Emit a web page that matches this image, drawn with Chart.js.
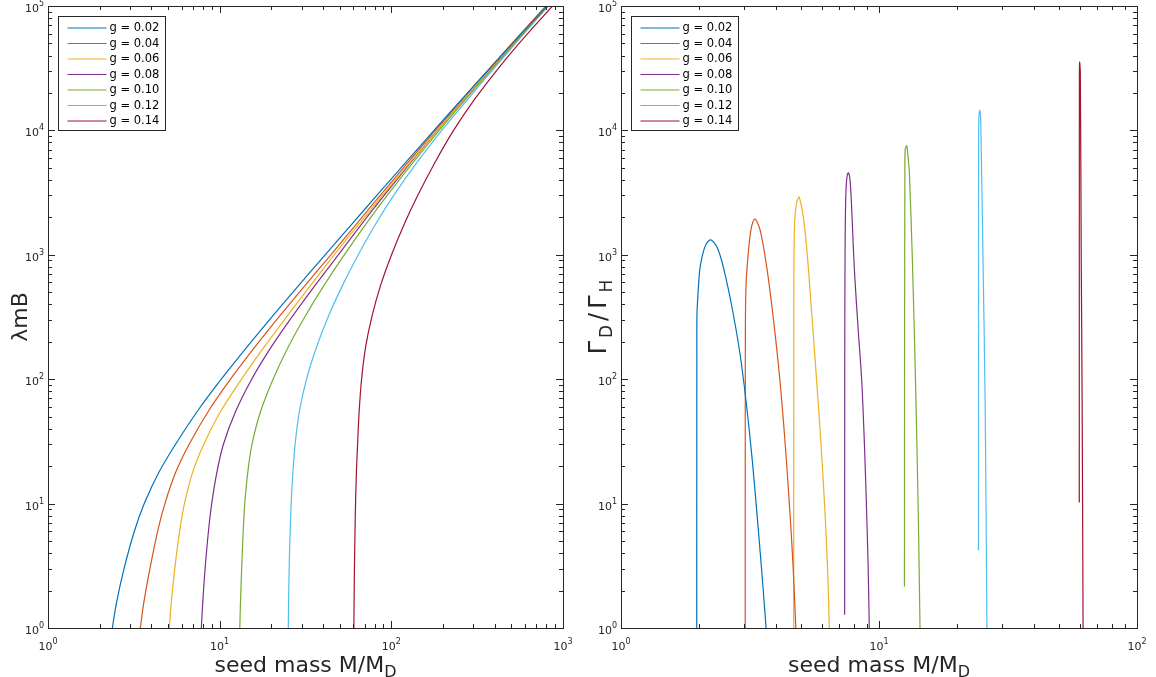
<!DOCTYPE html>
<html>
<head>
<meta charset="utf-8">
<script src="https://cdn.jsdelivr.net/npm/chart.js@4.4.1/dist/chart.umd.min.js"></script>
<style>
  body { margin: 0; background: #fff; }
  #wrap { position: relative; width: 1156px; height: 677px; }
  #wrap canvas { position: absolute; left: 0; top: 0; }
</style>
</head>
<body>
<div id="wrap">
  <canvas id="panelLeft" width="1156" height="677"></canvas>
  <canvas id="panelRight" width="1156" height="677"></canvas>
</div>
<script>
const gLabels = ['g = 0.02', 'g = 0.04', 'g = 0.06', 'g = 0.08', 'g = 0.10', 'g = 0.12', 'g = 0.14'];
const lineColors = ['#0072BD', '#D95319', '#EDB120', '#7E2F8E', '#77AC30', '#4DBEEE', '#A2142F'];

// left panel: lambda m B levels, and the seed mass where each curve reaches them
const lambdaLevels = [1, 1.6, 3, 6, 10, 18, 30, 55, 100, 180, 318, 560, 1000, 1800, 3000, 5500, 1e4, 1.8e4, 3.4e4, 5.6e4, 1e5];
const lambdaMass = [
  [2.37, 2.507, 2.773, 3.185, 3.638, 4.442, 5.534, 7.398, 10.22, 14.37, 20.22, 28.64, 41.17, 59.6, 82.3, 120.9, 177.2, 259.5, 393.6, 547.2, 805],
  [3.45, 3.615, 3.925, 4.354, 4.799, 5.559, 6.645, 8.574, 11.56, 15.97, 22.22, 31.2, 44.46, 63.24, 86.15, 124.6, 180.1, 260.8, 391.7, 542, 795],
  [5.09, 5.223, 5.475, 5.848, 6.234, 6.971, 8.085, 10.12, 13.4, 18.09, 24.59, 33.57, 46.47, 65.52, 88.8, 128.1, 185.1, 267.2, 400, 552, 807],
  [7.82, 7.969, 8.225, 8.604, 8.987, 9.643, 10.52, 12.38, 15.37, 19.9, 26.44, 35.69, 49.1, 67.85, 90.78, 129.4, 185.3, 267.5, 400.5, 552.7, 808.6],
  [13.1, 13.22, 13.43, 13.71, 14.0, 14.59, 15.43, 17.31, 20.47, 25.0, 31.38, 40.27, 53.2, 71.78, 94.6, 133.6, 190.2, 272.9, 407.3, 560.7, 817.6],
  [25.1, 25.2, 25.4, 25.74, 26.09, 26.71, 27.5, 29.13, 32.06, 36.59, 42.9, 51.7, 64.2, 81.7, 103.3, 140.7, 196.7, 280.7, 414.8, 567, 819.6],
  [60.5, 60.67, 60.97, 61.44, 61.88, 62.6, 63.6, 64.94, 67.1, 70.76, 77.05, 86.3, 100.3, 119.7, 142.4, 179.2, 230.4, 307.4, 438.7, 595.1, 868]
];

// right panel: Gamma_D / Gamma_H against seed mass
const ratioMass = [
  [1.966, 1.967, 1.968, 1.97, 1.99, 2.02, 2.07, 2.14, 2.23, 2.35, 2.49, 2.72, 2.94, 3.21, 3.51, 3.65],
  [3.03, 3.031, 3.034, 3.04, 3.06, 3.09, 3.13, 3.20, 3.30, 3.46, 3.67, 3.9, 4.13, 4.33, 4.52, 4.65, 4.76],
  [4.67, 4.672, 4.675, 4.68, 4.69, 4.71, 4.75, 4.82, 4.90, 5.06, 5.24, 5.48, 5.73, 5.96, 6.18, 6.32, 6.42],
  [7.36, 7.362, 7.37, 7.39, 7.42, 7.47, 7.54, 7.62, 7.72, 7.82, 7.95, 8.07, 8.31, 8.57, 8.78, 8.96, 9.08, 9.17],
  [12.55, 12.56, 12.58, 12.6, 12.63, 12.8, 12.92, 13.11, 13.47, 13.85, 14.2, 14.42],
  [24.3, 24.31, 24.33, 24.4, 24.6, 24.8, 25.3, 25.8, 26.2],
  [59.75, 59.76, 59.8, 59.9, 60.3, 60.8, 61.3, 61.8]
];
const ratioValue = [
  [1, 30, 150, 330, 500, 760, 1000, 1220, 1318, 1164, 804, 339, 126, 25, 2.9, 1],
  [1, 30, 200, 400, 650, 850, 1150, 1650, 1945, 1587, 804, 300, 98, 30, 8.3, 3, 1],
  [1, 30, 300, 800, 1300, 1800, 2300, 2750, 2911, 2162, 1164, 350, 98, 30, 8.3, 3, 1],
  [1.28, 30, 300, 1200, 2500, 3700, 4400, 4560, 4000, 2600, 1164, 628, 245, 98, 30, 8.3, 3, 1],
  [2.16, 100, 1000, 4500, 6980, 7530, 6580, 4540, 910, 98, 8.3, 1],
  [4.21, 1000, 8000, 13000, 14500, 11480, 910, 60, 1],
  [10.2, 1000, 20000, 35300, 29000, 910, 60, 1]
];

const axisColor = '#262626';
const fontName = '"DejaVu Sans", sans-serif';

function buildSets(massList, valueList, tension) {
    return massList.map(function (masses, i) {
        let values = Array.isArray(valueList[0]) ? valueList[i] : valueList;
        return {
            label: gLabels[i],
            data: masses.map(function (m, j) { return { x: m, y: values[j] }; }),
            borderColor: lineColors[i],
            backgroundColor: lineColors[i],
            borderWidth: 1.2,
            pointRadius: 0,
            tension: tension,
            fill: false
        };
    });
}

// draws "10" with a raised exponent
function drawPower(ctx, exp, x, y, align) {
    ctx.font = '11px ' + fontName;
    let w1 = ctx.measureText('10').width;
    ctx.font = '8px ' + fontName;
    let w2 = ctx.measureText(exp).width;
    let start = align === 'right' ? x - w1 - w2 : x - (w1 + w2) / 2;
    ctx.textAlign = 'left';
    ctx.textBaseline = 'alphabetic';
    ctx.font = '11px ' + fontName;
    ctx.fillText('10', start, y);
    ctx.font = '8px ' + fontName;
    ctx.fillText(exp, start + w1, y - 6);
}

// text made of pieces, some of them lowered as subscripts
function drawPieces(ctx, pieces, cx, baseY) {
    let total = 0;
    pieces.forEach(function (p) {
        ctx.font = p.size + 'px ' + fontName;
        p.w = ctx.measureText(p.t).width + (p.gap || 0);
        total += p.w;
    });
    let px = cx - total / 2;
    ctx.textAlign = 'left';
    ctx.textBaseline = 'alphabetic';
    pieces.forEach(function (p) {
        ctx.font = p.size + 'px ' + fontName;
        ctx.fillText(p.t, px, baseY + (p.dy || 0));
        px += p.w;
    });
}

const matlabAxes = {
    id: 'matlabAxes',
    afterDraw(chart, args, opts) {
        const ctx = chart.ctx;
        const a = chart.chartArea;
        const sx = chart.scales.x;
        const sy = chart.scales.y;
        ctx.save();
        ctx.strokeStyle = axisColor;
        ctx.fillStyle = axisColor;
        ctx.lineWidth = 1;

        // ticks, inward, on all four sides
        ctx.beginPath();
        const xExp = [Math.round(Math.log10(sx.min)), Math.round(Math.log10(sx.max))];
        for (let e = xExp[0]; e <= xExp[1]; e++) {
            for (let k = 1; k <= 9; k++) {
                if (e === xExp[1] && k > 1) break;
                let p = Math.round(sx.getPixelForValue(k * Math.pow(10, e))) + 0.5;
                let len = k === 1 ? 7 : 4;
                ctx.moveTo(p, a.bottom); ctx.lineTo(p, a.bottom - len);
                ctx.moveTo(p, a.top); ctx.lineTo(p, a.top + len);
            }
        }
        const yExp = [Math.round(Math.log10(sy.min)), Math.round(Math.log10(sy.max))];
        for (let e = yExp[0]; e <= yExp[1]; e++) {
            for (let k = 1; k <= 9; k++) {
                if (e === yExp[1] && k > 1) break;
                let p = Math.round(sy.getPixelForValue(k * Math.pow(10, e))) + 0.5;
                let len = k === 1 ? 7 : 4;
                ctx.moveTo(a.left, p); ctx.lineTo(a.left + len, p);
                ctx.moveTo(a.right, p); ctx.lineTo(a.right - len, p);
            }
        }
        ctx.stroke();
        ctx.strokeRect(Math.round(a.left) + 0.5, Math.round(a.top) + 0.5,
            Math.round(a.right - a.left), Math.round(a.bottom - a.top));

        // tick labels
        for (let e = xExp[0]; e <= xExp[1]; e++) {
            drawPower(ctx, String(e), sx.getPixelForValue(Math.pow(10, e)), a.bottom + 22, 'center');
        }
        for (let e = yExp[0]; e <= yExp[1]; e++) {
            drawPower(ctx, String(e), a.left - 4, sy.getPixelForValue(Math.pow(10, e)) + 6, 'right');
        }

        // axis titles
        drawPieces(ctx, [{ t: 'seed mass M/M', size: 22 }, { t: 'D', size: 16, dy: 5 }],
            (a.left + a.right) / 2, a.bottom + 44);
        ctx.save();
        ctx.translate(opts.yTitleX, (a.top + a.bottom) / 2);
        ctx.rotate(-Math.PI / 2);
        drawPieces(ctx, opts.yTitle, 0, 0);
        ctx.restore();

        // legend box
        const bx = Math.round(a.left + 10) + 0.5;
        const by = Math.round(a.top + 10) + 0.5;
        ctx.fillStyle = '#fff';
        ctx.fillRect(bx, by, 107, 114);
        ctx.strokeStyle = axisColor;
        ctx.strokeRect(bx, by, 107, 114);
        ctx.font = '11.5px ' + fontName;
        ctx.textBaseline = 'middle';
        ctx.textAlign = 'left';
        chart.data.datasets.forEach(function (ds, i) {
            let ly = by + 11.5 + i * 15.5;
            ctx.strokeStyle = ds.borderColor;
            ctx.lineWidth = 1.2;
            ctx.beginPath();
            ctx.moveTo(bx + 9, ly);
            ctx.lineTo(bx + 48, ly);
            ctx.stroke();
            ctx.fillStyle = '#000';
            ctx.fillText(ds.label, bx + 51, ly + 0.5);
        });
        ctx.restore();
    }
};

function makeOptions(xMax, padLeft, padRight, yTitle, yTitleX) {
    return {
        responsive: false,
        animation: false,
        devicePixelRatio: 1,
        layout: { padding: { left: padLeft, right: padRight, top: 6, bottom: 49 } },
        scales: {
            x: { type: 'logarithmic', min: 1, max: xMax, display: false },
            y: { type: 'logarithmic', min: 1, max: 1e5, display: false }
        },
        plugins: {
            legend: { display: false },
            tooltip: { enabled: false },
            matlabAxes: { yTitle: yTitle, yTitleX: yTitleX }
        }
    };
}

new Chart(document.getElementById('panelLeft'), {
    type: 'line',
    data: { datasets: buildSets(lambdaMass, lambdaLevels, 0.3) },
    options: makeOptions(1000, 48, 1156 - 563, [{ t: 'λmB', size: 22 }], 27),
    plugins: [matlabAxes]
});

new Chart(document.getElementById('panelRight'), {
    type: 'line',
    data: { datasets: buildSets(ratioMass, ratioValue, 0.3) },
    options: makeOptions(100, 621, 1156 - 1137,
        [{ t: 'Γ', size: 24, gap: 3 }, { t: 'D', size: 17, dy: 6, gap: 4 }, { t: '/', size: 24, gap: 4 },
         { t: 'Γ', size: 24, gap: 3 }, { t: 'H', size: 17, dy: 6 }], 606),
    plugins: [matlabAxes]
});
</script>
</body>
</html>
